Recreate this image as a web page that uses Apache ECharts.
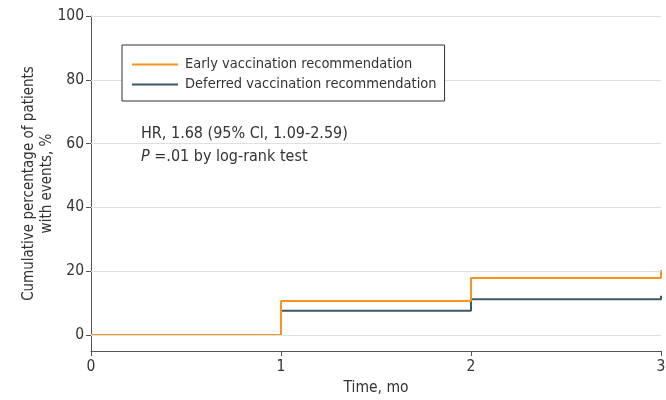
<!DOCTYPE html>
<html>
<head>
<meta charset="utf-8">
<script src="https://cdn.jsdelivr.net/npm/echarts@6/dist/echarts.min.js"></script>
<style>
  html, body { margin: 0; padding: 0; background: #fff; }
  #chart { width: 666px; height: 400px; }
</style>
</head>
<body>
<div id="chart"></div>
<script>
// 数据：累计事件百分比（阶梯曲线）
const seriesNames = ['Early vaccination recommendation', 'Deferred vaccination recommendation'];
const timeMonths = [0, 1, 2, 3];
const earlyValues = [0, 10.7, 17.9, 20.4];
const deferredValues = [0, 7.6, 11.2, 12.3];
const yTicks = [0, 20, 40, 60, 80, 100];

const FONT = '"DejaVu Sans Condensed", "Noto Sans", sans-serif';
const TEXT = '#333';

const chart = echarts.init(document.getElementById('chart'));

function toPairs(xs, ys) {
    return xs.map((x, i) => [x, ys[i]]);
}

chart.setOption({
    animation: false,
    textStyle: { fontFamily: FONT, color: TEXT },
    grid: { left: 91, right: 5, top: 16, bottom: 49, containLabel: false, outerBoundsMode: 'none' },
    legend: {
        left: 122, top: 45,
        z: 10,
        orient: 'vertical',
        data: seriesNames,
        icon: 'rect',
        itemWidth: 46, itemHeight: 2,
        itemGap: 5,
        padding: [12, 8, 9, 10],
        backgroundColor: '#fff',
        borderColor: '#333', borderWidth: 1,
        textStyle: { fontFamily: FONT, fontSize: 14.5, color: TEXT, padding: [0, 0, 0, 2] }
    },
    xAxis: {
        type: 'value',
        min: 0, max: 3, interval: 1,
        name: 'Time, mo',
        nameLocation: 'middle',
        nameGap: 29,
        nameMoveOverlap: false,
        nameTextStyle: { fontFamily: FONT, fontSize: 15.5, color: TEXT },
        axisLine: { onZero: false, lineStyle: { color: '#555', width: 1 } },
        axisTick: { show: true, length: 5, lineStyle: { color: '#555' } },
        axisLabel: { fontFamily: FONT, fontSize: 15.5, color: TEXT, margin: 8 },
        splitLine: { show: false }
    },
    yAxis: {
        type: 'value',
        min: -5, max: 100,
        name: 'Cumulative percentage of patients\nwith events, %',
        nameLocation: 'middle',
        nameGap: 35,
        nameMoveOverlap: false,
        nameTextStyle: { fontFamily: FONT, fontSize: 15, color: TEXT, lineHeight: 18 },
        axisLine: { show: true, lineStyle: { color: '#555', width: 1 } },
        axisTick: { show: true, length: 5, lineStyle: { color: '#555' }, customValues: yTicks },
        axisLabel: { fontFamily: FONT, fontSize: 15.5, color: TEXT, margin: 7, customValues: yTicks },
        splitLine: { show: false }
    },
    graphic: [{
        type: 'text',
        left: 141, top: 122,
        z: 10,
        style: {
            text: 'HR, 1.68 (95% Cl, 1.09-2.59)\n{i|P} =.01 by log-rank test',
            font: '16px ' + FONT,
            fill: TEXT,
            lineHeight: 23,
            rich: {
                i: { fontStyle: 'italic', fontFamily: FONT, fontSize: 16, fill: TEXT, lineHeight: 23 }
            }
        }
    }],
    series: [
        {
            // 网格线（放在最底层）
            name: 'gridlines',
            type: 'line',
            data: [],
            z: 0,
            markLine: {
                silent: true,
                symbol: 'none',
                label: { show: false },
                lineStyle: { color: '#e0e0e0', width: 1, type: 'solid' },
                data: yTicks.map(v => ({ yAxis: v }))
            }
        },
        {
            name: seriesNames[0],
            type: 'line',
            step: 'end',
            data: toPairs(timeMonths, earlyValues),
            showSymbol: false,
            lineStyle: { color: '#F7941D', width: 2 },
            itemStyle: { color: '#F7941D' },
            z: 3
        },
        {
            name: seriesNames[1],
            type: 'line',
            step: 'end',
            data: toPairs(timeMonths, deferredValues),
            showSymbol: false,
            lineStyle: { color: '#3B5866', width: 2 },
            itemStyle: { color: '#3B5866' },
            z: 2
        }
    ]
});
</script>
</body>
</html>
